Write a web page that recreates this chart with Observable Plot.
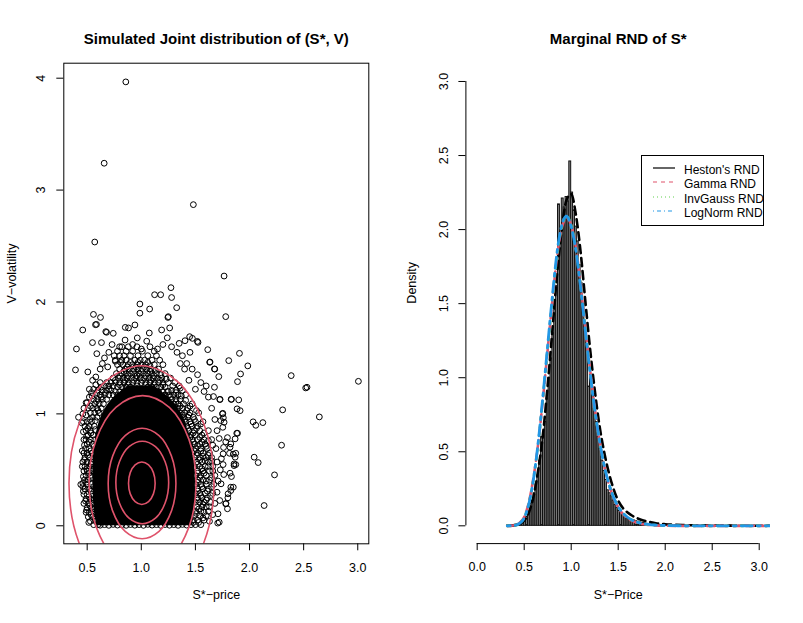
<!DOCTYPE html>
<html><head><meta charset="utf-8">
<script src="https://cdn.jsdelivr.net/npm/d3@7"></script>
<script src="https://cdn.jsdelivr.net/npm/@observablehq/plot@0.6"></script>
<style>
body{margin:0;background:#fff;}
#wrap{position:relative;width:803px;height:623px;font-family:"Liberation Sans",Arial,Helvetica,sans-serif;}
#wrap svg{position:absolute;top:0;}
.legend{position:absolute;left:641px;top:155px;width:123px;height:71px;border:1px solid #000;box-sizing:border-box;background:#fff;font-size:12px;color:#000;}
.legend .row{position:absolute;left:0;height:14px;width:121px;}
.legend .row svg{position:absolute;left:10px;top:2px;}
.legend .row span{position:absolute;left:42px;top:0;line-height:14px;white-space:nowrap;}
</style></head><body><div id="wrap"></div>
<script>
const FONT = '"Liberation Sans", Arial, Helvetica, sans-serif';

// ---------- LEFT PANEL DATA ----------
const leftTitle = "Simulated Joint distribution of (S*, V)";
const leftXLabel = "S*−price";
const leftYLabel = "V−volatility";
const leftXTicks = [0.5, 1.0, 1.5, 2.0, 2.5, 3.0];
const leftYTicks = [0, 1, 2, 3, 4];

// dense (solid black) core of the cloud: for each V level, S extent
const coreV  = [0.00, 0.10, 0.30, 0.55, 0.80, 0.95, 1.05, 1.15, 1.25];
const coreLo = [0.59, 0.57, 0.555, 0.555, 0.58, 0.62, 0.67, 0.75, 0.88];
const coreHi = [1.47, 1.49, 1.50, 1.49, 1.44, 1.40, 1.34, 1.25, 1.12];

// individually visible simulated points [S*, V]
const outerPoints = [[0.857,3.967],[0.657,3.24],[1.481,2.87],[0.570,2.536],[1.765,2.232],[1.274,2.128],[1.123,2.065],[1.179,2.065],[1.280,2.040],[0.987,1.982],[1.077,1.937],[0.987,1.900],[1.327,1.949],[0.558,1.889],[0.623,1.862],[1.250,1.869],[1.780,1.869],
[0.401,1.58],[0.392,1.393],[0.506,1.375],[0.459,1.75],[0.549,1.637],[0.589,1.538],[0.586,1.80],[0.632,1.637],[0.679,1.729],[0.741,1.72],[0.852,1.773],[0.941,1.795],[0.882,1.768],[0.963,1.679],[1.074,1.723],[1.188,1.75],[1.262,1.768],[1.246,1.862],[1.404,1.654],[1.447,1.69],[1.524,1.639],[1.614,1.574],[1.632,1.461],[1.676,1.402],[1.716,1.333],[1.725,1.128],[1.808,1.476],[1.907,1.541],[1.984,1.429],[1.889,1.288],[1.917,1.357],[1.830,1.13],[1.900,1.125],[1.885,1.045],[1.913,1.029],[2.385,1.342],[2.519,1.232],[2.531,1.238],[3.006,1.291],[2.306,1.036],[2.645,0.973],[2.033,0.929],[2.058,0.898],[2.123,0.922],[2.296,0.72],[2.043,0.613],[2.080,0.565],[2.231,0.455],[2.135,0.181],[1.882,0.827],[1.820,0.702],[1.867,0.613],[1.857,0.538],[1.827,0.345],[1.802,0.286],[1.783,0.199],[1.796,0.152],[1.709,0.107],[1.706,0.024],[1.725,0.226],[1.737,0.375],[1.762,0.458],[1.756,0.547],[1.815,0.648],[1.756,0.643],[1.796,0.788],[1.734,0.94],[1.75,1.0],
[0.577,1.797],[0.672,1.735],[0.441,0.369],[0.46,0.35],[0.42,0.97],
[1.635,1.464],[1.679,1.40],[1.833,1.13],[1.889,0.827],[1.867,0.777],[1.827,0.732],[1.78,0.75],[1.76,0.70],[1.873,0.648],[1.85,0.64],[1.857,0.553],[1.873,0.547],[1.82,0.47],[1.833,0.44],[1.85,0.345],[1.827,0.315],[1.80,0.25],[1.78,0.196],[1.72,0.032],[1.753,1.005],[1.758,0.965],[1.765,0.925],[1.753,0.88],[1.728,1.13],[1.667,1.155],[1.676,1.238],[1.518,1.648],[1.472,1.675],
[0.66,1.50],[0.70,1.55],[0.73,1.62],[0.76,1.47],[0.69,1.42],[0.64,1.45],[0.62,1.40],[0.58,1.33],[0.55,1.30],[0.52,1.22],[0.49,1.10],[0.47,1.05],[0.46,1.00],[0.45,0.92],[1.28,1.60],[1.33,1.55],[1.38,1.52],[1.42,1.45],[1.47,1.40],[1.52,1.35],[1.55,1.28],[1.58,1.20],[1.62,1.15],[1.60,1.25],[1.65,1.05],[1.68,0.95],[1.70,0.85],[1.72,0.78],[1.74,0.60],[1.73,0.50],[1.71,0.40],[1.70,0.30],[1.68,0.20],[1.66,0.10],[1.63,0.04],[1.20,1.62],[1.15,1.58],[1.24,1.68],[1.35,1.63],[1.45,1.55],[1.40,1.40],[1.44,1.30],[1.50,1.22],[1.36,1.45],[0.85,1.66],[0.92,1.62],[1.00,1.58],[1.05,1.65],[0.80,1.60],[0.75,1.52]];

const leftBand = [[0.56,0.01],[0.60,0.01],[0.53,0.04],[0.58,0.04],[0.55,0.08],[0.51,0.08],[0.52,0.12],[0.56,0.12],[0.49,0.12],[0.54,0.16],[0.50,0.16],[0.51,0.20],[0.55,0.20],[0.47,0.20],[0.53,0.24],[0.49,0.24],[0.50,0.28],[0.545,0.28],[0.47,0.28],[0.52,0.33],[0.48,0.33],[0.50,0.37],[0.54,0.37],[0.46,0.38],[0.51,0.41],[0.475,0.41],[0.53,0.45],[0.49,0.45],[0.50,0.49],[0.545,0.49],[0.47,0.49],[0.52,0.53],[0.48,0.53],[0.50,0.57],[0.54,0.57],[0.46,0.57],[0.52,0.61],[0.48,0.61],[0.50,0.65],[0.545,0.65],[0.47,0.65],[0.52,0.69],[0.485,0.69],[0.50,0.73],[0.55,0.73],[0.53,0.77],[0.49,0.77],[0.47,0.77],[0.51,0.81],[0.555,0.81],[0.53,0.85],[0.49,0.85],[0.52,0.89],[0.565,0.89],[0.48,0.89],[0.54,0.93],[0.50,0.93],[0.55,0.97],[0.59,0.97],[0.57,1.01],[0.53,1.01],[0.61,1.01],[0.55,1.05],[0.59,1.05],[0.63,1.05],[0.51,1.05],[0.57,1.09],[0.61,1.09],[0.65,1.09],[0.60,1.13],[0.64,1.13],[0.56,1.13],[0.68,1.13],[0.62,1.17],[0.66,1.17],[0.70,1.17],[0.64,1.21],[0.68,1.21],[0.72,1.21],[0.60,1.21],[0.66,1.25],[0.70,1.25],[0.74,1.25],[0.52,1.15],[0.54,1.19],[0.50,1.10],[0.56,1.22],[0.58,1.26],[0.62,1.28]];
const leftMid = [[0.515,0.03],[0.575,0.06],[0.535,0.10],[0.495,0.14],[0.57,0.15],[0.525,0.18],[0.485,0.22],[0.565,0.23],[0.515,0.26],[0.465,0.31],[0.535,0.31],[0.56,0.35],[0.495,0.39],[0.545,0.43],[0.465,0.44],[0.515,0.47],[0.56,0.51],[0.495,0.51],[0.455,0.53],[0.535,0.55],[0.475,0.59],[0.56,0.60],[0.505,0.63],[0.455,0.67],[0.535,0.67],[0.565,0.71],[0.475,0.72],[0.515,0.75],[0.57,0.77],[0.495,0.80],[0.535,0.83],[0.465,0.84],[0.575,0.86],[0.505,0.87],[0.465,0.93],[0.525,0.95],[0.575,0.94],[0.49,0.99],[0.60,1.03],[0.53,1.07],[0.585,1.11],[0.63,1.15],[0.545,1.16],[0.67,1.19],[0.59,1.19],[0.70,1.22],[0.63,1.24],[0.68,1.28]];

const topBand = [[0.74,1.17],[0.78,1.17],[1.22,1.17],[1.26,1.17],
[0.76,1.20],[0.80,1.20],[0.84,1.20],[1.12,1.20],[1.16,1.20],[1.20,1.20],[1.24,1.20],
[0.78,1.24],[0.82,1.24],[0.86,1.24],[0.90,1.24],[1.06,1.24],[1.10,1.24],[1.14,1.24],[1.18,1.24],[1.22,1.24],
[0.72,1.28],[0.76,1.28],[0.80,1.28],[0.84,1.28],[0.88,1.28],[0.92,1.28],[0.96,1.28],[1.00,1.28],[1.04,1.28],[1.08,1.28],[1.12,1.28],[1.16,1.28],[1.20,1.28],[1.25,1.28],
[0.74,1.32],[0.79,1.32],[0.83,1.32],[0.87,1.32],[0.91,1.32],[0.95,1.32],[0.99,1.32],[1.03,1.32],[1.07,1.32],[1.11,1.32],[1.15,1.32],[1.19,1.32],[1.27,1.32],
[0.77,1.36],[0.82,1.36],[0.86,1.36],[0.90,1.36],[0.94,1.36],[0.98,1.36],[1.02,1.36],[1.06,1.36],[1.10,1.36],[1.14,1.36],[1.22,1.36],
[0.80,1.40],[0.85,1.40],[0.89,1.40],[0.93,1.40],[0.97,1.40],[1.01,1.40],[1.05,1.40],[1.09,1.40],[1.16,1.40],
[0.78,1.44],[0.83,1.44],[0.88,1.44],[0.92,1.44],[0.96,1.44],[1.00,1.44],[1.04,1.44],[1.12,1.44],[1.20,1.44],
[0.76,1.48],[0.82,1.48],[0.86,1.48],[0.94,1.48],[0.99,1.48],[1.03,1.48],[1.10,1.48],[1.17,1.48],
[0.80,1.52],[0.84,1.52],[0.90,1.52],[0.97,1.52],[1.06,1.52],[1.14,1.52],
[0.78,1.56],[0.86,1.56],[0.92,1.56],[1.01,1.56],[1.12,1.56],
[0.82,1.60],[0.88,1.60],[0.96,1.60],[1.08,1.60]];
const topMid = [[0.80,1.26],[0.88,1.26],[0.96,1.25],[1.04,1.26],[1.12,1.26],[1.20,1.26],[0.76,1.30],[0.85,1.30],[0.93,1.30],[1.01,1.30],[1.09,1.30],[1.17,1.30],[1.23,1.31],[0.80,1.34],[0.88,1.34],[0.96,1.34],[1.04,1.34],[1.12,1.34],[1.18,1.35],[0.84,1.38],[0.92,1.38],[1.00,1.38],[1.08,1.38],[1.13,1.39],[0.87,1.42],[0.95,1.42],[1.03,1.42],[1.08,1.43],[0.90,1.46],[0.97,1.46],[1.06,1.46],[0.81,1.46]];

const rightBand = [[1.46,0.01],[1.50,0.01],[1.55,0.01],[1.48,0.05],[1.52,0.05],[1.58,0.05],[1.49,0.09],[1.54,0.09],[1.60,0.09],[1.50,0.13],[1.55,0.13],[1.62,0.13],[1.51,0.17],[1.56,0.17],[1.60,0.17],[1.50,0.21],[1.54,0.21],[1.58,0.21],[1.64,0.21],[1.52,0.25],[1.56,0.25],[1.61,0.25],[1.50,0.29],[1.54,0.29],[1.59,0.29],[1.66,0.29],[1.52,0.33],[1.57,0.33],[1.62,0.33],[1.50,0.37],[1.55,0.37],[1.60,0.37],[1.67,0.37],[1.52,0.41],[1.57,0.41],[1.63,0.41],[1.50,0.45],[1.55,0.45],[1.60,0.45],[1.68,0.45],[1.52,0.49],[1.57,0.49],[1.63,0.49],[1.49,0.53],[1.54,0.53],[1.59,0.53],[1.66,0.53],[1.51,0.57],[1.56,0.57],[1.62,0.57],[1.70,0.57],[1.49,0.61],[1.54,0.61],[1.60,0.61],[1.65,0.61],[1.47,0.65],[1.52,0.65],[1.57,0.65],[1.63,0.65],[1.46,0.69],[1.50,0.69],[1.55,0.69],[1.61,0.69],[1.69,0.69],[1.45,0.73],[1.49,0.73],[1.54,0.73],[1.59,0.73],[1.43,0.77],[1.47,0.77],[1.52,0.77],[1.58,0.77],[1.65,0.77],[1.42,0.81],[1.46,0.81],[1.50,0.81],[1.56,0.81],[1.40,0.85],[1.44,0.85],[1.49,0.85],[1.54,0.85],[1.62,0.85],[1.38,0.89],[1.42,0.89],[1.47,0.89],[1.52,0.89],[1.37,0.93],[1.41,0.93],[1.45,0.93],[1.50,0.93],[1.57,0.93],[1.35,0.97],[1.39,0.97],[1.43,0.97],[1.48,0.97],[1.32,1.01],[1.36,1.01],[1.40,1.01],[1.45,1.01],[1.53,1.01],[1.30,1.05],[1.34,1.05],[1.38,1.05],[1.43,1.05],[1.26,1.09],[1.30,1.09],[1.34,1.09],[1.39,1.09],[1.47,1.09],[1.24,1.13],[1.28,1.13],[1.32,1.13],[1.36,1.13],[1.30,1.17],[1.34,1.17],[1.41,1.17],[1.28,1.21],[1.32,1.21],[1.38,1.21],[1.29,1.25],[1.35,1.25]];
const rightMid = [[1.48,0.03],[1.53,0.03],[1.57,0.07],[1.51,0.11],[1.58,0.12],[1.53,0.15],[1.63,0.17],[1.57,0.19],[1.52,0.23],[1.60,0.23],[1.55,0.27],[1.64,0.27],[1.52,0.31],[1.61,0.31],[1.56,0.35],[1.65,0.35],[1.52,0.39],[1.60,0.40],[1.54,0.43],[1.65,0.43],[1.58,0.47],[1.52,0.47],[1.66,0.49],[1.56,0.51],[1.62,0.53],[1.52,0.55],[1.59,0.58],[1.65,0.58],[1.54,0.59],[1.51,0.63],[1.62,0.63],[1.57,0.62],[1.55,0.67],[1.49,0.67],[1.60,0.71],[1.66,0.72],[1.52,0.71],[1.48,0.75],[1.56,0.75],[1.62,0.76],[1.45,0.79],[1.54,0.79],[1.48,0.83],[1.58,0.83],[1.43,0.87],[1.51,0.87],[1.46,0.91],[1.55,0.91],[1.40,0.95],[1.49,0.95],[1.44,0.99],[1.38,0.99],[1.51,1.03],[1.42,1.03],[1.36,1.07],[1.45,1.07],[1.32,1.11],[1.41,1.12],[1.27,1.15],[1.37,1.16],[1.32,1.19],[1.25,1.20],[1.36,1.23],[1.31,1.28]];

const bottomEdge = [[0.62,0.005],[0.66,0.01],[0.70,0.004],[0.74,0.012],[0.78,0.006],[0.82,0.01],[0.86,0.004],[0.90,0.011],[0.94,0.005],[0.98,0.01],[1.02,0.004],[1.06,0.012],[1.10,0.006],[1.14,0.01],[1.18,0.004],[1.22,0.011],[1.26,0.005],[1.30,0.01],[1.34,0.004],[1.38,0.012],[1.42,0.006]];

// density contour levels (5 rings), points read along each ring [S*, V]
const ring1 = [[1.128,0.38],[1.112,0.475],[1.067,0.545],[1.005,0.57],[0.943,0.545],[0.898,0.475],[0.882,0.38],[0.898,0.285],[0.943,0.215],[1.005,0.19],[1.067,0.215],[1.112,0.285]];
const ring2 = [[1.253,0.387],[1.220,0.572],[1.131,0.707],[1.009,0.756],[0.887,0.707],[0.798,0.572],[0.765,0.387],[0.798,0.203],[0.887,0.068],[1.009,0.018],[1.131,0.068],[1.220,0.203]];
const ring3 = [[1.320,0.378],[1.278,0.625],[1.164,0.806],[1.007,0.872],[0.851,0.806],[0.736,0.625],[0.694,0.378],[0.736,0.131],[0.851,-0.050],[1.007,-0.116],[1.164,-0.050],[1.278,0.131]];
const ring4 = [[1.506,0.38],[1.440,0.772],[1.259,1.058],[1.012,1.163],[0.765,1.058],[0.584,0.772],[0.518,0.38],[0.584,-0.012],[0.765,-0.298],[1.012,-0.403],[1.259,-0.298],[1.440,-0.012]];
const ring5 = [[1.672,0.38],[1.580,0.905],[1.335,1.289],[1.002,1.43],[0.667,1.289],[0.422,0.905],[0.332,0.38],[0.422,-0.145],[0.667,-0.529],[1.002,-0.67],[1.335,-0.529],[1.580,-0.145]];

// ---------- RIGHT PANEL DATA ----------
const rightTitle = "Marginal RND of S*";
const rightXLabel = "S*−Price";
const rightYLabel = "Density";
const rightXTicks = [0, 0.5, 1.0, 1.5, 2.0, 2.5, 3.0];
const rightYTicks = [0, 0.5, 1.0, 1.5, 2.0, 2.5, 3.0];
const histFirstBreak = 0.32;
const histBinWidth = 0.02;
const histDensity = [0.002,0.003,0.004,0.005,0.008,0.010,0.014,0.022,0.03,0.045,0.06,0.085,0.15,0.17,0.22,0.28,0.34,0.44,0.60,0.61,0.70,0.86,1.00,1.13,1.30,1.46,1.62,2.17,1.98,2.21,2.15,2.22,2.19,2.46,2.25,2.13,2.02,1.92,1.76,1.64,1.50,1.36,1.22,0.94,1.02,0.88,0.79,0.70,0.60,0.52,0.44,0.37,0.31,0.24,0.22,0.20,0.17,0.14,0.12,0.10,0.09,0.08,0.07,0.06,0.05,0.046,0.04,0.036,0.03,0.028,0.024,0.02,0.018,0.016,0.013,0.011,0.010,0.009,0.007,0.006,
0.005,0.006,0.004,0.005,0.003,0.004,0.003,0.003,0.002,0.003,0.002,0.002,0.003,0.001,0.002,0.001,0.002,0.001,0.001,0.002,0.001,0.001,0.001,0,0.001,0.001,0,0.001,0,0.001,0,0,0.001,0,0.001,0,0,0,0.001,0,0,0,0,0.001,0,0,0,0,0,0,0.001,0,0,0,0,0,0,0,0.001];

const rndS      = [0.32,0.35,0.40,0.45,0.50,0.55,0.60,0.65,0.70,0.75,0.80,0.85,0.90,0.95,1.00,1.05,1.10,1.15,1.20,1.25,1.30,1.35,1.40,1.45,1.50,1.55,1.60,1.65,1.70,1.75,1.80,1.85,1.90,2.00,2.10,2.20,2.40,2.60,2.80,3.00,3.12];
const hestonRND = [0,0,0.002,0.012,0.035,0.09,0.20,0.38,0.62,0.95,1.32,1.70,2.00,2.20,2.24,2.10,1.85,1.52,1.20,0.92,0.68,0.50,0.36,0.25,0.17,0.12,0.09,0.068,0.052,0.04,0.031,0.024,0.018,0.011,0.007,0.005,0.003,0.002,0.001,0.001,0.0005];
const gammaRND  = [0,0.001,0.004,0.02,0.06,0.16,0.33,0.56,0.86,1.19,1.52,1.82,2.01,2.08,2.03,1.88,1.63,1.34,1.06,0.80,0.58,0.41,0.28,0.19,0.125,0.08,0.052,0.033,0.021,0.013,0.008,0.005,0.003,0.001,0,0,0,0,0,0,0];
const invGaussRND = [0,0.001,0.003,0.017,0.055,0.15,0.32,0.56,0.87,1.20,1.53,1.83,2.02,2.09,2.03,1.87,1.62,1.33,1.05,0.79,0.58,0.41,0.285,0.195,0.13,0.087,0.058,0.038,0.025,0.017,0.011,0.007,0.005,0.002,0.001,0,0,0,0,0,0];
const logNormRND = [0,0.001,0.003,0.016,0.053,0.15,0.32,0.57,0.88,1.22,1.55,1.85,2.03,2.09,2.02,1.86,1.61,1.32,1.04,0.79,0.58,0.41,0.285,0.195,0.13,0.087,0.058,0.038,0.025,0.017,0.011,0.007,0.005,0.002,0.001,0,0,0,0,0,0];
const legendLabels = ["Heston's RND", "Gamma RND", "InvGauss RND", "LogNorm RND"];

// ---------- BUILD ----------
const wrap = document.getElementById("wrap");
const core = coreV.map((v, i) => ({v, lo: coreLo[i], hi: coreHi[i]}));
const pts = [...leftBand, ...leftMid, ...topBand, ...topMid, ...rightBand, ...rightMid, ...bottomEdge, ...outerPoints];
const rings = [ring1, ring2, ring3, ring4, ring5].flatMap((r, k) => r.map(([s, v]) => ({ring: k, s, v})));

const txt = {fontFamily: FONT, fill: "black"};
const left = Plot.plot({
  width: 400, height: 623,
  marginLeft: 63.3, marginRight: 31.7, marginTop: 62.7, marginBottom: 79.7,
  style: {fontFamily: FONT, fontSize: "12.5px", color: "black", background: "transparent", overflow: "visible"},
  x: {domain: [0.284, 3.102], label: null},
  y: {domain: [-0.161, 4.134], label: null},
  marks: [
    Plot.areaX(core, {y: "v", x1: "lo", x2: "hi", fill: "black", curve: "catmull-rom"}),
    Plot.dot(pts, {x: d => d[0], y: d => d[1], r: 2.9, stroke: "black", strokeWidth: 1, fill: "none"}),
    Plot.line(rings, {x: "s", y: "v", z: "ring", stroke: "#DF536B", strokeWidth: 1.6, curve: "catmull-rom-closed", clip: true}),
    Plot.frame({stroke: "black"}),
    Plot.axisX(leftXTicks, {anchor: "bottom", tickSize: 7, tickPadding: 12, tickFormat: d => d.toFixed(1), fontSize: 12.5}),
    Plot.axisY(leftYTicks, {anchor: "left", tickSize: 7, tickPadding: 12, tickRotate: -90, tickFormat: d => String(d), fontSize: 12.5}),
    Plot.text([leftXLabel], {...txt, frameAnchor: "bottom", dy: 55, text: d => d, fontSize: 12.5}),
    Plot.text([leftYLabel], {...txt, frameAnchor: "left", dx: -52, rotate: -90, text: d => d, fontSize: 12.5}),
    Plot.text([leftTitle], {...txt, frameAnchor: "top", dy: -30, text: d => d, fontSize: 15, fontWeight: "bold"})
  ]
});
left.style.left = "0px";
wrap.appendChild(left);

const hist = histDensity.map((d, i) => ({x1: histFirstBreak + i * histBinWidth, x2: histFirstBreak + (i + 1) * histBinWidth, d}));
const rnd = rndS.map((s, i) => ({s, heston: hestonRND[i], gamma: gammaRND[i], ig: invGaussRND[i], ln: logNormRND[i]}));
const right = Plot.plot({
  width: 403, height: 623,
  marginLeft: 65.4, marginRight: 33, marginTop: 63.2, marginBottom: 79.9,
  style: {fontFamily: FONT, fontSize: "12.5px", color: "black", background: "transparent", overflow: "visible"},
  x: {domain: [-0.12, 3.12], label: null},
  y: {domain: [-0.12, 3.12], label: null},
  marks: [
    Plot.rectY(hist, {x1: "x1", x2: "x2", y: "d", fill: "#8a8a8a", stroke: "#111", strokeWidth: 1, inset: 0, clip: true}),
    Plot.line(rnd, {x: "s", y: "heston", stroke: "black", strokeWidth: 2.6, strokeDasharray: "8,5", curve: "monotone-x", clip: true}),
    Plot.line(rnd, {x: "s", y: "gamma", stroke: "#DF536B", strokeWidth: 2.6, strokeDasharray: "8,5", curve: "monotone-x", clip: true}),
    Plot.line(rnd, {x: "s", y: "ig", stroke: "#61D04F", strokeWidth: 2.6, strokeDasharray: "2,6", curve: "monotone-x", clip: true}),
    Plot.line(rnd, {x: "s", y: "ln", stroke: "#2297E6", strokeWidth: 2.8, strokeDasharray: "3,5,11,5", curve: "monotone-x", clip: true}),
    Plot.ruleY([-0.12], {x1: rightXTicks[0], x2: rightXTicks[rightXTicks.length - 1], stroke: "black"}),
    Plot.ruleX([-0.12], {y1: rightYTicks[0], y2: rightYTicks[rightYTicks.length - 1], stroke: "black"}),
    Plot.axisX(rightXTicks, {anchor: "bottom", tickSize: 7, tickPadding: 12, tickFormat: d => d.toFixed(1), fontSize: 12.5}),
    Plot.axisY(rightYTicks, {anchor: "left", tickSize: 7, tickPadding: 11, tickRotate: -90, tickFormat: d => d.toFixed(1), fontSize: 12.5}),
    Plot.text([rightXLabel], {...txt, frameAnchor: "bottom", dy: 55, text: d => d, fontSize: 12.5}),
    Plot.text([rightYLabel], {...txt, frameAnchor: "left", dx: -54, rotate: -90, text: d => d, fontSize: 12.5}),
    Plot.text([rightTitle], {...txt, frameAnchor: "top", dy: -30.5, text: d => d, fontSize: 15, fontWeight: "bold"})
  ]
});
right.style.left = "400px";
wrap.appendChild(right);

// legend (R style box)
const legendStyles = [
  {color: "black", dash: ""},
  {color: "#DF536B", dash: "4,4"},
  {color: "#61D04F", dash: "1,3"},
  {color: "#2297E6", dash: "1,3,4,3"}
];
const lg = document.createElement("div");
lg.className = "legend";
const rowTops = [7, 21, 35.5, 49.5];
legendLabels.forEach((lab, i) => {
  const row = document.createElement("div");
  row.className = "row";
  row.style.top = rowTops[i] + "px";
  const s = legendStyles[i];
  row.innerHTML = `<svg width="24" height="10"><line x1="1" y1="5" x2="23" y2="5" stroke="${s.color}" stroke-width="1.2" ${s.dash ? `stroke-dasharray="${s.dash}"` : ""}/></svg><span>${lab}</span>`;
  lg.appendChild(row);
});
wrap.appendChild(lg);
</script></body></html>
